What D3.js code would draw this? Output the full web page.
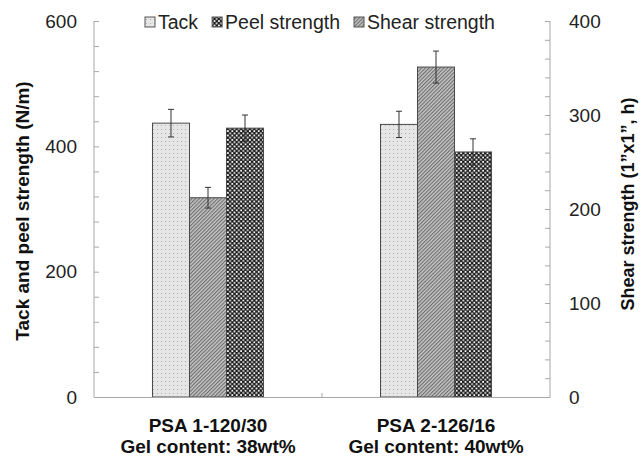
<!DOCTYPE html>
<html>
<head>
<meta charset="utf-8">
<script src="https://cdn.jsdelivr.net/npm/d3@7"></script>
<style>
  html, body { margin: 0; padding: 0; background: #fff; }
  svg { display: block; font-family: Arial, "Liberation Sans", sans-serif; }
</style>
</head>
<body>
<svg id="chart" width="641" height="459"></svg>
<script>
// Samples and measured properties
const categories = ["PSA 1-120/30", "PSA 2-126/16"];
const gelContent = ["Gel content: 38wt%", "Gel content: 40wt%"];
const tack = [437, 435];
const tackErr = [22, 21];
const peel = [429, 391];
const peelErr = [21, 21];
const shear = [212, 351];
const shearErr = [11, 17];

const leftTicks = [0, 200, 400, 600];
const rightTicks = [0, 100, 200, 300, 400];
const legendNames = ["Tack", "Peel strength", "Shear strength"];
// order of the bars inside each group
const barOrder = ["Tack", "Shear strength", "Peel strength"];

const svg = d3.select("#chart");
const margin = { left: 94, right: 91, top: 21, bottom: 62 };
const W = 641, H = 459;
const x0 = margin.left, x1 = W - margin.right;
const yTop = margin.top, yBot = H - margin.bottom;

const yLeft = d3.scaleLinear().domain([0, 600]).range([yBot, yTop]);
const yRight = d3.scaleLinear().domain([0, 400]).range([yBot, yTop]);
const xBand = d3.scaleBand().domain(categories).range([x0, x1]).paddingInner(0).paddingOuter(0);
const xSub = d3.scaleBand().domain(barOrder).range([0, xBand.bandwidth()]).paddingInner(0).paddingOuter(1.58);

// fill patterns
const defs = svg.append("defs");
const pDot = defs.append("pattern").attr("id", "pTack").attr("patternUnits", "userSpaceOnUse")
  .attr("width", 4).attr("height", 4);
pDot.append("rect").attr("width", 4).attr("height", 4).attr("fill", "#e6e6e6");
pDot.append("circle").attr("cx", 1.5).attr("cy", 1.5).attr("r", 0.6).attr("fill", "#a8a8a8");

const pDiag = defs.append("pattern").attr("id", "pShear").attr("patternUnits", "userSpaceOnUse")
  .attr("width", 2.6).attr("height", 2.6).attr("patternTransform", "rotate(-45)");
pDiag.append("rect").attr("width", 2.6).attr("height", 2.6).attr("fill", "#c4c4c4");
pDiag.append("rect").attr("width", 2.6).attr("height", 1.1).attr("fill", "#6e6e6e");

const pCheck = defs.append("pattern").attr("id", "pPeel").attr("patternUnits", "userSpaceOnUse")
  .attr("width", 4.4).attr("height", 4.4);
pCheck.append("rect").attr("width", 4.4).attr("height", 4.4).attr("fill", "#1c1c1c");
pCheck.append("rect").attr("x", 0.4).attr("y", 0.4).attr("width", 1.8).attr("height", 1.8).attr("fill", "#f2f2f2");
pCheck.append("rect").attr("x", 2.6).attr("y", 2.6).attr("width", 1.8).attr("height", 1.8).attr("fill", "#f2f2f2");

const fills = { "Tack": "url(#pTack)", "Peel strength": "url(#pPeel)", "Shear strength": "url(#pShear)" };

// build bar records
const bars = [];
categories.forEach((c, i) => {
  bars.push({ cat: c, s: "Tack", v: tack[i], e: tackErr[i], y: yLeft });
  bars.push({ cat: c, s: "Peel strength", v: peel[i], e: peelErr[i], y: yLeft });
  bars.push({ cat: c, s: "Shear strength", v: shear[i], e: shearErr[i], y: yRight });
});

const axisColor = "#a8a8a8";

// axes frame lines
const g = svg.append("g");
g.append("line").attr("x1", x0).attr("x2", x0).attr("y1", yTop).attr("y2", yBot).attr("stroke", axisColor);
g.append("line").attr("x1", x1).attr("x2", x1).attr("y1", yTop).attr("y2", yBot).attr("stroke", axisColor);

// left axis (ticks pointing inward)
const leftAxis = d3.axisRight(yLeft).tickValues(d3.range(0, 601, 40)).tickSize(5).tickFormat("");
const gl = svg.append("g").attr("transform", `translate(${x0},0)`).call(leftAxis);
gl.select(".domain").remove();
gl.selectAll(".tick line").attr("stroke", axisColor);
svg.append("g").selectAll("text").data(leftTicks).join("text")
  .attr("x", x0 - 17).attr("y", d => yLeft(d)).attr("dy", "0.35em")
  .attr("text-anchor", "end").attr("font-size", 19).attr("fill", "#222").text(d => d);

// right axis
const rightAxis = d3.axisLeft(yRight).tickValues(d3.range(0, 401, 20)).tickSize(5).tickFormat("");
const gr = svg.append("g").attr("transform", `translate(${x1},0)`).call(rightAxis);
gr.select(".domain").remove();
gr.selectAll(".tick line").attr("stroke", axisColor);
svg.append("g").selectAll("text").data(rightTicks).join("text")
  .attr("x", x1 + 19).attr("y", d => yRight(d)).attr("dy", "0.35em")
  .attr("text-anchor", "start").attr("font-size", 19).attr("fill", "#222").text(d => d);

// bars
const gb = svg.append("g");
gb.selectAll("rect").data(bars).join("rect")
  .attr("x", d => xBand(d.cat) + xSub(d.s))
  .attr("width", xSub.bandwidth())
  .attr("y", d => d.y(d.v))
  .attr("height", d => yBot - d.y(d.v))
  .attr("fill", d => fills[d.s])
  .attr("stroke", "#4a4a4a").attr("stroke-width", 1);

// error bars
const ge = svg.append("g").attr("stroke", "#333").attr("stroke-width", 1);
bars.forEach(d => {
  const cx = xBand(d.cat) + xSub(d.s) + xSub.bandwidth() / 2;
  const yHi = d.y(d.v + d.e), yLo = d.y(d.v - d.e);
  ge.append("line").attr("x1", cx).attr("x2", cx).attr("y1", yHi).attr("y2", yLo);
  ge.append("line").attr("x1", cx - 3).attr("x2", cx + 3).attr("y1", yHi).attr("y2", yHi);
  ge.append("line").attr("x1", cx - 3).attr("x2", cx + 3).attr("y1", yLo).attr("y2", yLo);
});

// bottom axis
const bottomAxis = d3.axisTop(xBand).tickSize(0).tickFormat("");
const gx = svg.append("g").attr("transform", `translate(0,${yBot})`).call(bottomAxis);
gx.select(".domain").attr("stroke", axisColor);
svg.append("line").attr("x1", xBand(categories[1])).attr("x2", xBand(categories[1]))
  .attr("y1", yBot).attr("y2", yBot - 4).attr("stroke", axisColor);

// category labels
const gc = svg.append("g").attr("font-weight", "bold").attr("font-size", 19).attr("fill", "#111").attr("text-anchor", "middle");
gc.selectAll("text.c1").data(categories).join("text").attr("class", "c1")
  .attr("x", d => xBand(d) + xBand.bandwidth() / 2).attr("y", 425).attr("dy", "0.35em").text(d => d);
gc.selectAll("text.c2").data(gelContent).join("text").attr("class", "c2")
  .attr("x", (d, i) => xBand(categories[i]) + xBand.bandwidth() / 2).attr("y", 446).attr("dy", "0.35em").text(d => d);

// axis titles
svg.append("text").attr("transform", `translate(22,${(yTop + yBot) / 2 + 2}) rotate(-90)`)
  .attr("text-anchor", "middle").attr("dy", "0.35em").attr("font-weight", "bold").attr("font-size", 19).attr("fill", "#111")
  .text("Tack and peel strength (N/m)");
svg.append("text").attr("transform", `translate(628,${(yTop + yBot) / 2 - 5}) rotate(-90)`)
  .attr("text-anchor", "middle").attr("dy", "0.35em").attr("font-weight", "bold").attr("font-size", 18).attr("fill", "#111")
  .text("Shear strength (1”x1”, h)");

// legend
const lg = svg.append("g").attr("transform", `translate(145,22)`);
let lx = 0;
legendNames.forEach((n, i) => {
  lg.append("rect").attr("x", lx).attr("y", -5).attr("width", 10).attr("height", 10)
    .attr("fill", fills[n]).attr("stroke", "#555").attr("stroke-width", 1);
  const t = lg.append("text").attr("x", lx + 13).attr("y", 0).attr("dy", "0.35em")
    .attr("font-size", 19.5).attr("fill", "#222").text(n);
  lx += 13 + t.node().getComputedTextLength() + 14;
});
</script>
</body>
</html>
